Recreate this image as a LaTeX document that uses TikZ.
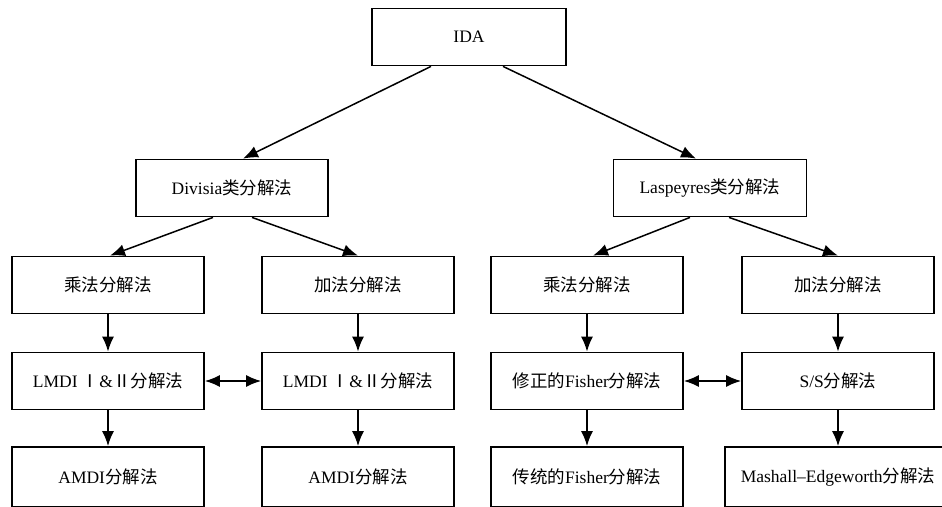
\documentclass[tikz,border=0pt]{standalone}
\usepackage{fontspec}
\setmainfont{Liberation Serif}
\newfontfamily\cjk{Noto Sans CJK SC}
\usetikzlibrary{arrows.meta}
\begin{document}
\begin{tikzpicture}[x=1pt,y=-1pt,>={Latex[length=15pt,width=12pt]}]
	\tikzstyle{rec}=[minimum width=192pt,minimum height=57pt,inner sep=0pt,rectangle,draw,line width=1.8pt,font=\fontsize{17.5pt}{20pt}\selectfont]
	\tikzstyle{low}=[rec,minimum height=60pt]
	\tikzstyle{arr}=[->,line width=1.5pt]
	\useasboundingbox (0,0) rectangle (942,506);
	\clip (0,0) rectangle (942,506);

	\node[rec,minimum width=194pt] (IDA) at (469,37) {IDA};
	\node[rec] (DIV) at (232,188) {Divisia{\cjk 类分解法}};
	\node[rec,minimum width=193pt] (LAS) at (710,188) {Laspeyres{\cjk 类分解法}};

	\node[rec] (MUL1) at (108,285) {\cjk 乘法分解法};
	\node[rec] (ADD1) at (358,285) {\cjk 加法分解法};
	\node[rec] (MUL2) at (587,285) {\cjk 乘法分解法};
	\node[rec] (ADD2) at (838,285) {\cjk 加法分解法};

	\node[rec] (LM1) at (108,381) {LMDI {\cjk Ⅰ}\&{\cjk Ⅱ分解法}};
	\node[rec] (LM2) at (358,381) {LMDI {\cjk Ⅰ}\&{\cjk Ⅱ分解法}};
	\node[rec] (MFI) at (587,381) {{\cjk 修正的}Fisher{\cjk 分解法}};
	\node[rec] (SS) at (838,381) {S/S{\cjk 分解法}};

	\node[low] (AM1) at (108,477) {AMDI{\cjk 分解法}};
	\node[low] (AM2) at (358,477) {AMDI{\cjk 分解法}};
	\node[low] (TFI) at (587,477) {{\cjk 传统的}Fisher{\cjk 分解法}};
	\node[low,minimum width=226pt] (ME) at (838,477) {Mashall--Edgeworth{\cjk 分解法}};

	\path ([xshift=-38pt]IDA.south) edge[arr] ([xshift=11pt]DIV.north);
	\path ([xshift=34pt]IDA.south) edge[arr] ([xshift=-14pt]LAS.north);
	\path ([xshift=-19pt]DIV.south) edge[arr] ([xshift=2pt]MUL1.north);
	\path ([xshift=20pt]DIV.south) edge[arr] (ADD1.north);
	\path ([xshift=-20pt]LAS.south) edge[arr] ([xshift=6pt]MUL2.north);
	\path ([xshift=19pt]LAS.south) edge[arr] (ADD2.north);

	\path (MUL1) edge[arr] (LM1);
	\path (ADD1) edge[arr] (LM2);
	\path (MUL2) edge[arr] (MFI);
	\path (ADD2) edge[arr] (SS);
	\path (LM1) edge[arr] (AM1);
	\path (LM2) edge[arr] (AM2);
	\path (MFI) edge[arr] (TFI);
	\path (SS) edge[arr] (ME);

	\path (LM1) edge[arr,<->] (LM2);
	\path (MFI) edge[arr,<->] (SS);
\end{tikzpicture}
\end{document}
